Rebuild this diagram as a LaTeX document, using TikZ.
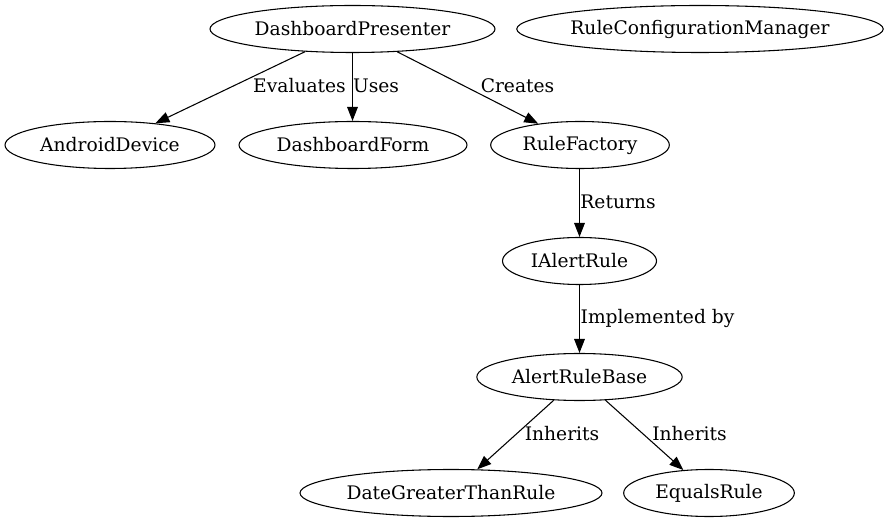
\documentclass[tikz,border=0pt]{standalone}
\usepackage{fontspec}
\setmainfont{DejaVu Serif}
\usepackage{tikz}
\usetikzlibrary{arrows.meta, shapes.geometric}
\tikzset{>={Triangle[length=10.5pt,width=8pt]}}
\tikzset{
  cls/.style={draw, ellipse, inner sep=0pt, minimum height=35.25pt, font=\fontsize{14}{17}\selectfont},
  lbl/.style={inner sep=0pt, font=\fontsize{14}{17}\selectfont},
  rel/.style={->, line width=0.8pt}
}

\begin{document}
\begin{tikzpicture}[x=0.75pt,y=-0.75pt, line width=0.8pt]
    \useasboundingbox (0,0) rectangle (888,523);
 %   top row
    \node[cls, minimum width=213.75pt] (presenter) at (352.5,29) {DashboardPresenter};
    \node[cls, minimum width=273pt] (config) at (700,29) {RuleConfigurationManager};
    \node[cls, minimum width=157.5pt] (device) at (110,145) {AndroidDevice};
    \node[cls, minimum width=171pt] (form) at (353,145) {DashboardForm};
    \node[cls, minimum width=134pt] (factory) at (580,145) {RuleFactory};
    \node[cls, minimum width=115.5pt] (ialert) at (579.5,261) {IAlertRule};
    \node[cls, minimum width=154pt] (base) at (579.5,377) {AlertRuleBase};
    \node[cls, minimum width=226.5pt] (dategt) at (451,493) {DateGreaterThanRule};
    \node[cls, minimum width=128pt] (equals) at (709,493) {EqualsRule};
 %   relations
    \draw[rel] (presenter) -- (device);
    \draw[rel] (presenter.south) -- (form.north -| presenter.south);
    \draw[rel] (presenter) -- (factory);
    \draw[rel] (factory.south -| ialert.north) -- (ialert.north);
    \draw[rel] (ialert) -- (base);
    \draw[rel] (base) -- (dategt);
    \draw[rel] (base) -- (equals);
 %   labels
    \node[lbl] (lEval) at (299.5,86) {Evaluates};
    \node[lbl] (lUses) at (376,86) {Uses};
    \node[lbl] (lCreate) at (517.5,86) {Creates};
    \node[lbl] (lRet) at (618,202) {Returns};
    \node[lbl] (lImpl) at (657.5,318) {Implemented by};
    \node[lbl] (lInhA) at (562,434) {Inherits};
    \node[lbl] (lInhB) at (689.5,434) {Inherits};
\end{tikzpicture}
\end{document}
